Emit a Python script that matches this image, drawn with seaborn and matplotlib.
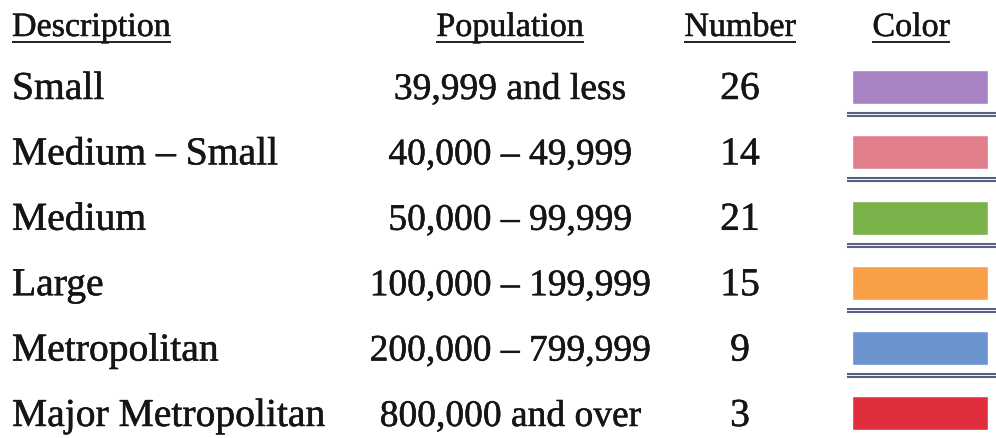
import matplotlib
matplotlib.use("Agg")
import matplotlib.pyplot as plt
import matplotlib.patheffects as pe
import seaborn as sns
import pandas as pd

headers = ["Description", "Population", "Number", "Color"]
descriptions = ["Small", "Medium \u2013 Small", "Medium", "Large", "Metropolitan", "Major Metropolitan"]
populations = ["39,999 and less", "40,000 \u2013 49,999", "50,000 \u2013 99,999",
               "100,000 \u2013 199,999", "200,000 \u2013 799,999", "800,000 and over"]
numbers = [26, 14, 21, 15, 9, 3]
colors = ["#a783c4", "#e07e8c", "#7bb34a", "#f9a046", "#6b93cd", "#e12e3d"]

sns.set_style("white")
plt.rcParams["font.family"] = ["Liberation Serif", "DejaVu Serif"]

W, H = 996, 439
fig = plt.figure(figsize=(W / 100, H / 100), dpi=100)
ax = fig.add_axes([0, 0, 1, 1])
ax.set_xlim(0, W)
ax.set_ylim(H, 0)
ax.axis("off")

# layout constants (pixels)
col_x = [12, 510, 740, 911]
col_ha = ["left", "center", "center", "center"]
head_base = 37
row_base0, row_step = 100, 65.4
swatch_c0, swatch_step = 88, 65.3
head_fs, row_fs, pop_fs = 24.5, 28.5, 27
txt_col = "#151515"
bold = [pe.withStroke(linewidth=0.35, foreground=txt_col)]

# headers with underline
renderer = fig.canvas.get_renderer()
inv = ax.transData.inverted()
for x, ha, h in zip(col_x, col_ha, headers):
    t = ax.text(x, head_base, h, ha=ha, va="baseline", fontsize=head_fs, color=txt_col,
                path_effects=bold)
    bb = t.get_window_extent(renderer=renderer)
    (x0, _), (x1, _) = inv.transform([(bb.x0, bb.y0), (bb.x1, bb.y1)])
    ax.plot([x0, x1], [head_base + 6, head_base + 6], color="#222222", lw=1.4,
            solid_capstyle="butt")

# rows
for i, (d, p, n) in enumerate(zip(descriptions, populations, numbers)):
    yb = row_base0 + i * row_step
    ax.text(col_x[0], yb, d, ha="left", va="baseline", fontsize=row_fs, color=txt_col,
            path_effects=bold)
    ax.text(col_x[1], yb, p, ha="center", va="baseline", fontsize=pop_fs, color=txt_col,
            path_effects=bold)
    ax.text(col_x[2], yb, str(n), ha="center", va="baseline", fontsize=row_fs, color=txt_col,
            path_effects=bold)
    # double rule below swatch
    yl = swatch_c0 + i * swatch_step + 27.5
    ax.plot([847, W], [yl - 1.4, yl - 1.4], color="#5a5e84", lw=1.5, solid_capstyle="butt")
    ax.plot([847, W], [yl + 1.4, yl + 1.4], color="#5a5e84", lw=1.5, solid_capstyle="butt")

# colour swatches via seaborn
ax2 = fig.add_axes([852 / W, 0, (988 - 852) / W, 1])
df = pd.DataFrame({"desc": descriptions, "val": [1] * len(descriptions)})
sns.barplot(data=df, y="desc", x="val", hue="desc", palette=colors, orient="h",
            width=34 / swatch_step, legend=False, ax=ax2, saturation=1)
ax2.set_xlim(0, 1)
ax2.set_ylim((H - swatch_c0) / swatch_step, -swatch_c0 / swatch_step)
ax2.axis("off")
ax2.patch.set_alpha(0)

fig.savefig("out.png", dpi=100, facecolor="white")
